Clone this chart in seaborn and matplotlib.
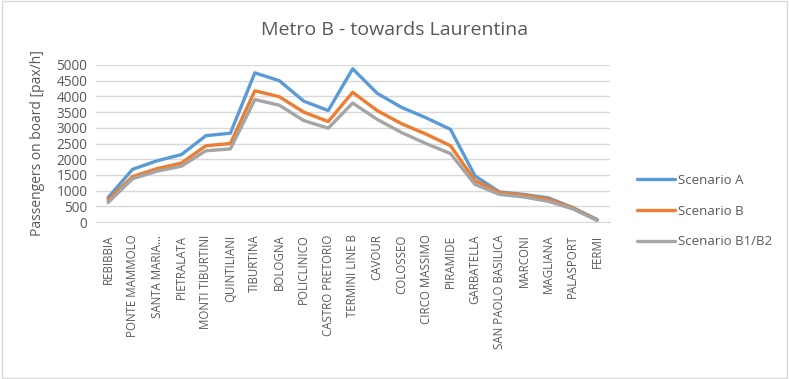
import pandas as pd
import matplotlib.pyplot as plt
import seaborn as sns

# Stations along the line (towards Laurentina)
stations = ['REBIBBIA', 'PONTE MAMMOLO', 'SANTA MARIA…', 'PIETRALATA', 'MONTI TIBURTINI',
            'QUINTILIANI', 'TIBURTINA', 'BOLOGNA', 'POLICLINICO', 'CASTRO PRETORIO',
            'TERMINI LINE B', 'CAVOUR', 'COLOSSEO', 'CIRCO MASSIMO', 'PIRAMIDE',
            'GARBATELLA', 'SAN PAOLO BASILICA', 'MARCONI', 'MAGLIANA', 'PALASPORT', 'FERMI']

scenario_a = [780, 1680, 1950, 2150, 2750, 2830, 4750, 4500, 3850, 3550, 4880,
              4100, 3650, 3320, 2950, 1470, 960, 880, 770, 460, 80]
scenario_b = [700, 1450, 1700, 1880, 2430, 2500, 4180, 3990, 3500, 3200, 4130,
              3550, 3130, 2800, 2430, 1320, 940, 860, 730, 450, 60]
scenario_b12 = [620, 1380, 1620, 1780, 2270, 2330, 3900, 3720, 3230, 2990, 3790,
                3270, 2850, 2500, 2180, 1200, 880, 800, 660, 420, 50]

series = {'Scenario A': scenario_a, 'Scenario B': scenario_b, 'Scenario B1/B2': scenario_b12}
colors = ['#5B9BD5', '#ED7D31', '#A5A5A5']

rows = []
for name, vals in series.items():
    for i, v in enumerate(vals):
        rows.append({'pos': i, 'value': v, 'scenario': name})
df = pd.DataFrame(rows)

sns.set_style('white')
plt.rcParams['font.family'] = ['Open Sans', 'DejaVu Sans']

fig = plt.figure(figsize=(7.89, 3.79), dpi=100)
ax = fig.add_axes([0.1215, 0.414, 0.651, 0.4145])

sns.lineplot(data=df, x='pos', y='value', hue='scenario', palette=colors,
             linewidth=2.4, ax=ax, legend=True)

ax.set_xlim(-0.5, len(stations) - 0.5)
ax.set_ylim(0, 5000)
ax.set_yticks(range(0, 5001, 500))
ax.set_xticks(range(len(stations)))
ax.set_xticklabels(stations, rotation=90, fontsize=8.3, color='#595959')
ax.tick_params(axis='y', labelsize=9.8, colors='#595959', length=0, pad=6)
ax.tick_params(axis='x', length=0, pad=9)
ax.grid(axis='y', color='#D9D9D9', linewidth=1)
ax.set_axisbelow(True)
for s in ['top', 'right', 'left']:
    ax.spines[s].set_visible(False)
ax.spines['bottom'].set_color('#D9D9D9')

ax.set_xlabel('')
ax.set_ylabel('Passengers on board [pax/h]', fontsize=10, color='#595959', labelpad=8)

fig.text(0.5, 0.92, 'Metro B - towards Laurentina', ha='center', va='center',
         fontsize=14, color='#595959')

handles, labels = ax.get_legend_handles_labels()
ax.legend(handles, labels, loc='center left', bbox_to_anchor=(1.03, 0.07),
          frameon=False, fontsize=9.5, labelcolor='#595959', handlelength=2.9,
          handletextpad=0.2, labelspacing=1.35)

# chart border
fig.patches.append(plt.Rectangle((0.002, 0.003), 0.996, 0.994, transform=fig.transFigure,
                                 fill=False, edgecolor='#D9D9D9', linewidth=1))

fig.savefig('out.png', dpi=100)
